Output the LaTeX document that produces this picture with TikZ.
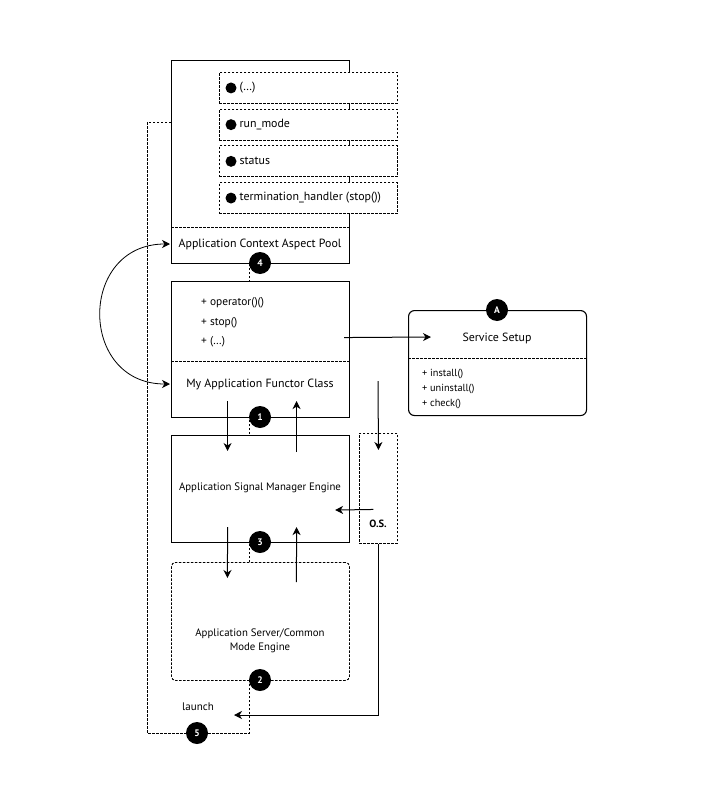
\documentclass[tikz,border=0pt]{standalone}
\usepackage{fontspec}
\setmainfont{PT Sans}
\usetikzlibrary{positioning,arrows.meta,calc}
\tikzset{
  solid-box/.style={draw=black, line width=1.1pt, fill=white, inner sep=0pt},
  dashed-box/.style={draw=black, line width=0.9pt, dash pattern=on 2.5pt off 1.5pt, fill=white, inner sep=0pt},
  sep-line/.style={line width=0.9pt, dash pattern=on 2.5pt off 1.5pt},
  box-text/.style={font=\fontsize{11.9}{14}\selectfont, align=center, inner sep=1pt},
  engine-text/.style={font=\fontsize{10.8}{14}\selectfont, align=center, inner sep=1pt},
  member-text/.style={font=\fontsize{11.4}{13}\selectfont, align=left, inner sep=1pt},
  list-text/.style={font=\fontsize{10.3}{12}\selectfont, align=left, inner sep=1pt},
  badge/.style={circle, fill=black, text=white, minimum size=22pt, inner sep=0pt, font=\fontsize{9.5}{9.5}\selectfont\bfseries},
  flow-arrow/.style={-{Stealth[length=8pt, width=8pt, inset=2.5pt]}, line width=1pt},
  loop-line/.style={line width=0.9pt, dash pattern=on 2.5pt off 1.5pt}
}
\begin{document}
\begin{tikzpicture}[x=1pt, y=-1pt]
\useasboundingbox (0,0) rectangle (705,800);

% Launch loop behind the boxes
\draw[loop-line] (171,122) -- (147,122) -- (147,733) -- (249,733) -- (249,263);

% Context pool
\node[solid-box, minimum width=178pt, minimum height=203pt, anchor=north west] (pool) at (171,60) {};
\draw[sep-line] (171,227) -- (349,227);
\node[box-text] (pool-title) at (260,244) {Application Context Aspect Pool};

% Pool entries
\foreach \txt [count=\i from 0] in {{(\ldots)}, {run\_mode}, {status}, {termination\_handler (stop())}} {
  \node[dashed-box, minimum width=178pt, minimum height=31pt, anchor=north west] (item-\i) at (219,{72+36.7*\i}) {};
  \fill ([xshift=12pt]item-\i.west) circle (5.5pt);
  \node[box-text, anchor=west] (item-text-\i) at ([xshift=19.5pt]item-\i.west) {\txt};
}

% Functor class
\node[solid-box, minimum width=178pt, minimum height=136pt, anchor=north west] (functor) at (171,281) {};
\draw[sep-line] (171,361) -- (349,361);
\node[member-text, anchor=west] (op-1) at (200,303) {+ operator()()};
\node[member-text, anchor=west] (op-2) at (200,323) {+ stop()};
\node[member-text, anchor=west] (op-3) at (200,342) {+ (\ldots)};
\node[box-text] (functor-title) at (260,384) {My Application Functor Class};

% Service setup
\node[solid-box, rounded corners=6pt, minimum width=178pt, minimum height=105pt, anchor=north west] (service) at (408,310) {};
\draw[sep-line] (408,358) -- (586,358);
\node[box-text] (service-title) at (497,338) {Service Setup};
\node[list-text, anchor=west] (svc-1) at (421,374) {+ install()};
\node[list-text, anchor=west] (svc-2) at (421,389) {+ uninstall()};
\node[list-text, anchor=west] (svc-3) at (421,404) {+ check()};

% Signal manager
\node[solid-box, minimum width=178pt, minimum height=107pt, anchor=north west] (signal) at (171,435) {};
\node[engine-text] (signal-title) at (260,488) {Application Signal Manager Engine};

% Operating system
\node[dashed-box, minimum width=38pt, minimum height=110pt, anchor=north west] (os) at (359,433) {};
\node[engine-text, font=\fontsize{10.5}{12}\selectfont\bfseries] (os-title) at (378,524) {O.S.};

% Server engine
\node[dashed-box, rounded corners=4pt, minimum width=178pt, minimum height=118pt, anchor=north west] (server) at (171,562) {};
\node[engine-text] (server-title) at (260,641) {Application Server/Common\\Mode Engine};

\node[engine-text, font=\fontsize{11}{13}\selectfont] (launch) at (198,707) {launch};

% Connectors
\coordinate (setup-in) at (431,337);
\coordinate (os-top) at (378,381);
\coordinate (launch-in) at (234,715);
\draw[flow-arrow] ([yshift=12pt,xshift=-6pt]functor.east) -- (setup-in);
\draw[flow-arrow] (os-top) -- ([yshift=-17pt]os.north);
\draw[flow-arrow] ([xshift=-5pt,yshift=-21pt]os.center) -- ([xshift=-15pt,yshift=-21pt]signal.east);
\draw[flow-arrow] (os.south) |- (launch-in);

\draw[flow-arrow] ([xshift=-33pt,yshift=17pt]functor.south) -- ([xshift=-33pt,yshift=-16pt]signal.north);
\draw[flow-arrow] ([xshift=36pt,yshift=-17pt]signal.north) -- ([xshift=36pt,yshift=17pt]functor.south);
\draw[flow-arrow] ([xshift=-33pt,yshift=16pt]signal.south) -- ([xshift=-33pt,yshift=-16pt]server.north);
\draw[flow-arrow] ([xshift=36pt,yshift=-20pt]server.north) -- ([xshift=36pt,yshift=16pt]signal.south);

% Pool <-> functor
\draw[{Stealth[length=8pt, width=8pt, inset=2.5pt]}-{Stealth[length=8pt, width=8pt, inset=2.5pt]}, line width=0.8pt]
  ([xshift=-1pt]pool.west |- pool-title) .. controls (78,244) and (78,384) .. ([xshift=-1pt]functor.west |- functor-title);

% Step badges
\node[badge] (badge-4) at (260,263) {4};
\node[badge] (badge-1) at (260,417) {1};
\node[badge] (badge-3) at (260,542) {3};
\node[badge] (badge-2) at (260,680) {2};
\node[badge] (badge-5) at (197,733) {5};
\node[badge] (badge-a) at (497,310) {A};
\end{tikzpicture}
\end{document}
